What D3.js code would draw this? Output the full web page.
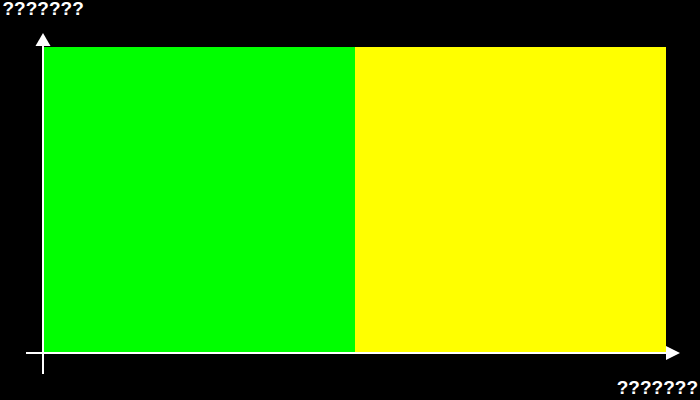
<!DOCTYPE html>
<html>
<head>
<meta charset="utf-8">
<script src="https://cdn.jsdelivr.net/npm/d3@7"></script>
<style>
  html, body { margin: 0; padding: 0; background: #000; }
  svg { display: block; }
</style>
</head>
<body>
<svg id="chart" width="700" height="400"></svg>
<script>
const categories = ["A", "B"];
const values = [100, 100];
const colors = ["#00ff00", "#ffff00"];
const yAxisLabel = "???????";
const xAxisLabel = "???????";

const W = 700, H = 400;
const margin = { left: 44, right: 34, top: 47, bottom: 48 };
const svg = d3.select("#chart");
svg.append("rect").attr("width", W).attr("height", H).attr("fill", "#000");

const x = d3.scaleBand().domain(categories).range([margin.left, W - margin.right]).padding(0);
const y = d3.scaleLinear().domain([0, d3.max(values)]).range([H - margin.bottom, margin.top]);

svg.append("g").selectAll("rect")
  .data(categories)
  .join("rect")
  .attr("x", d => x(d))
  .attr("y", (d, i) => y(values[i]))
  .attr("width", x.bandwidth())
  .attr("height", (d, i) => y(0) - y(values[i]))
  .attr("fill", (d, i) => colors[i]);

const axisY = y(0) + 1;
const axisX = margin.left - 1;
const g = svg.append("g").attr("stroke", "#fff").attr("stroke-width", 2);
g.append("line").attr("x1", 26).attr("x2", W - margin.right).attr("y1", axisY).attr("y2", axisY);
g.append("line").attr("x1", axisX).attr("x2", axisX).attr("y1", margin.top - 2).attr("y2", 374);
svg.append("path")
  .attr("d", `M${axisX},33 L${axisX + 7.5},46 L${axisX - 7.5},46 Z`)
  .attr("fill", "#fff");
svg.append("path")
  .attr("d", `M680,${axisY} L666,${axisY - 7} L666,${axisY + 7} Z`)
  .attr("fill", "#fff");

const font = "'Liberation Sans', Arial, sans-serif";
svg.append("text")
  .attr("x", 2.5).attr("y", 15.3)
  .attr("fill", "#fff")
  .attr("font-family", font)
  .attr("font-weight", "bold")
  .attr("font-size", 19)
  .text(yAxisLabel);
svg.append("text")
  .attr("x", 698).attr("y", 393.5)
  .attr("text-anchor", "end")
  .attr("fill", "#fff")
  .attr("font-family", font)
  .attr("font-weight", "bold")
  .attr("font-size", 19)
  .text(xAxisLabel);
</script>
</body>
</html>
